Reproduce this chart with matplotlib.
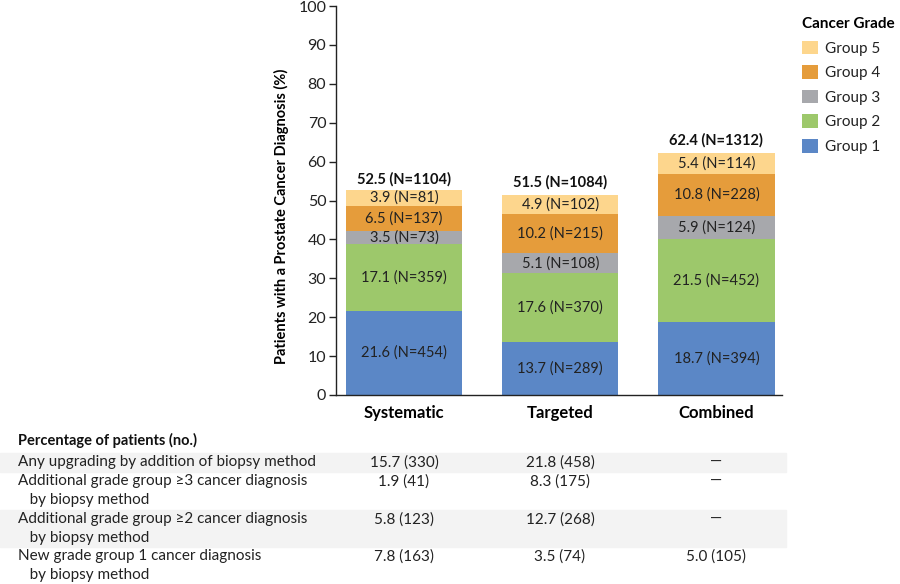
import matplotlib.pyplot as plt
from matplotlib.patches import Rectangle, Patch

plt.rcParams['font.family'] = ['Lato', 'DejaVu Sans']

methods = ['Systematic', 'Targeted', 'Combined']
groups = ['Group 1', 'Group 2', 'Group 3', 'Group 4', 'Group 5']
colors = ['#5b87c6', '#9dc86b', '#a7a8ac', '#e59c3b', '#fdd68d']

pct = [
    [21.6, 13.7, 18.7],
    [17.1, 17.6, 21.5],
    [3.5, 5.1, 5.9],
    [6.5, 10.2, 10.8],
    [3.9, 4.9, 5.4],
]
counts = [
    [454, 289, 394],
    [359, 370, 452],
    [73, 108, 124],
    [137, 215, 228],
    [81, 102, 114],
]
totals = [52.5, 51.5, 62.4]
total_n = [1104, 1084, 1312]

row_labels = [
    'Any upgrading by addition of biopsy method',
    'Additional grade group \u22653 cancer diagnosis\n   by biopsy method',
    'Additional grade group \u22652 cancer diagnosis\n   by biopsy method',
    'New grade group 1 cancer diagnosis\n   by biopsy method',
]
row_values = [
    ['15.7 (330)', '21.8 (458)', '\u2014'],
    ['1.9 (41)', '8.3 (175)', '\u2014'],
    ['5.8 (123)', '12.7 (268)', '\u2014'],
    ['7.8 (163)', '3.5 (74)', '5.0 (105)'],
]

W, H = 900, 584
fig = plt.figure(figsize=(9, 5.84), dpi=100)
ax = fig.add_axes([336 / W, 1 - 395 / H, (782 - 336) / W, (395 - 6) / H])

x = [0, 1, 2]
bw = 0.745
bottom = [0, 0, 0]
for g in range(len(groups)):
    ax.bar(x, pct[g], bw, bottom=bottom, color=colors[g], linewidth=0)
    for i in x:
        ax.text(i, bottom[i] + pct[g][i] / 2, f'{pct[g][i]} (N={counts[g][i]})',
                ha='center', va='center', fontsize=10.5, color='#222222')
    bottom = [b + v for b, v in zip(bottom, pct[g])]

for i in x:
    ax.text(i, totals[i] + 1.2, f'{totals[i]} (N={total_n[i]})', ha='center',
            va='bottom', fontsize=10.5, fontweight='bold', color='#111111')

ax.set_xlim(-0.436, 2.42)
ax.set_ylim(0, 100)
ax.set_yticks(range(0, 101, 10))
ax.set_xticks(x)
ax.set_xticklabels(methods, fontsize=12, fontweight='bold')
ax.tick_params(axis='x', length=0, pad=7)
ax.tick_params(axis='y', length=5, width=1, labelsize=11.5, pad=2, colors='#222222')
for s in ['top', 'right']:
    ax.spines[s].set_visible(False)
for s in ['left', 'bottom']:
    ax.spines[s].set_linewidth(1)
    ax.spines[s].set_color('#222222')
ax.set_ylabel('Patients with a Prostate Cancer Diagnosis (%)', fontsize=10.5,
              fontweight='bold', labelpad=6)
ax.yaxis.set_label_coords(-0.105, 0.46)

# legend
handles = [Patch(facecolor=colors[g], label=groups[g]) for g in range(len(groups))][::-1]
leg = fig.legend(handles=handles, loc='upper left', bbox_to_anchor=(790 / W, 1 - 5 / H),
                 frameon=False, title='Cancer Grade', fontsize=11,
                 handlelength=1.0, handleheight=1.0, handletextpad=0.5,
                 labelspacing=0.62, borderpad=0.3, alignment='left')
leg.get_title().set_fontweight('bold')
leg.get_title().set_fontsize(11)
for t in leg.get_texts():
    t.set_color('#222222')

# table below
fig.text(18 / W, 1 - 440 / H, 'Percentage of patients (no.)', fontsize=10.5,
         fontweight='bold', va='center', ha='left', color='#111111')
shade = [(453, 472), (510, 547)]
for y0, y1 in shade:
    fig.patches.append(Rectangle((0, 1 - y1 / H), 786 / W, (y1 - y0) / H,
                                 transform=fig.transFigure, color='#f3f3f3', zorder=0))
row_y = [463, 482, 520, 557]
col_x = [404, 560, 716]
for r, lab in enumerate(row_labels):
    fig.text(18 / W, 1 - (row_y[r] - 8) / H, lab, fontsize=11, va='top', ha='left',
             color='#222222', linespacing=1.45)
    for c in range(3):
        fig.text(col_x[c] / W, 1 - (row_y[r] - 8) / H, row_values[r][c], fontsize=11,
                 va='top', ha='center', color='#222222')

fig.savefig('out.png', dpi=100)
